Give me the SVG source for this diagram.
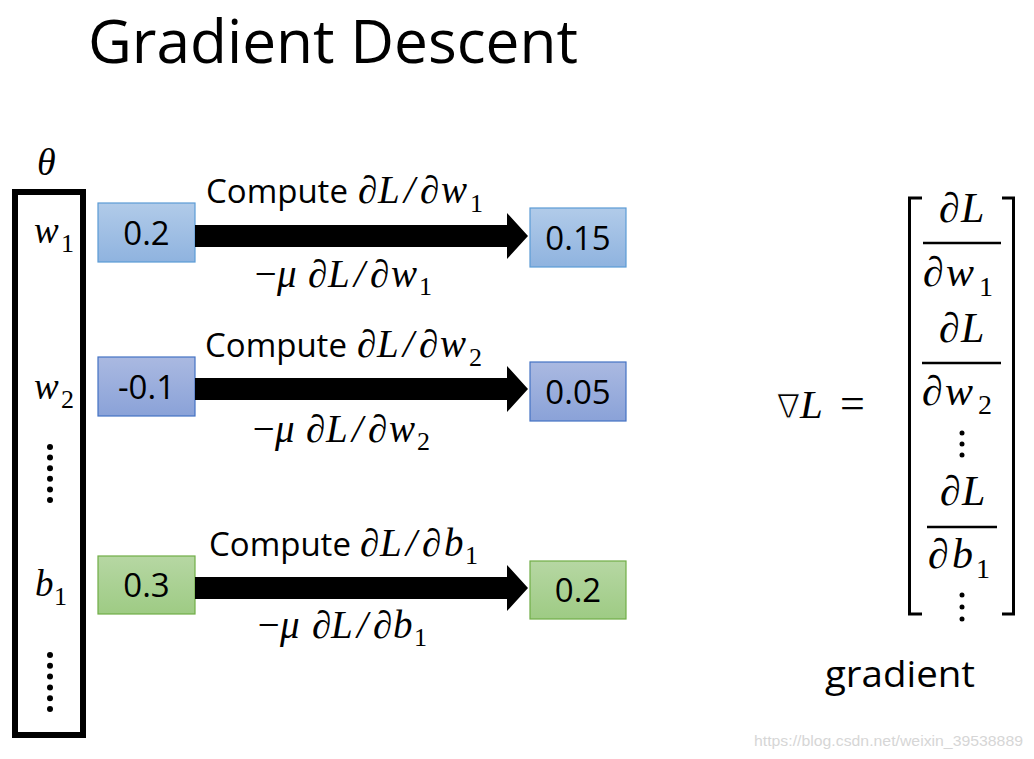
<svg xmlns="http://www.w3.org/2000/svg" width="1034" height="759" viewBox="0 0 1034 759">
<defs>
<linearGradient id="gBlue" x1="0" y1="0" x2="0" y2="1"><stop offset="0" stop-color="#b1cbe9"/><stop offset="1" stop-color="#8fb3df"/></linearGradient>
<linearGradient id="gPurple" x1="0" y1="0" x2="0" y2="1"><stop offset="0" stop-color="#aab9e1"/><stop offset="1" stop-color="#8aa2d8"/></linearGradient>
<linearGradient id="gGreen" x1="0" y1="0" x2="0" y2="1"><stop offset="0" stop-color="#b6d7a3"/><stop offset="1" stop-color="#9ecb84"/></linearGradient>
<style>
.sans{font-family:"Open Sans","Liberation Sans",sans-serif;fill:#000}
.math{font-family:"Liberation Serif","DejaVu Serif",serif;font-style:italic;fill:#000}
.sub{font-family:"Liberation Serif","DejaVu Serif",serif;font-style:normal;fill:#000}
.num{font-family:"Open Sans","Liberation Sans",sans-serif;font-size:33px;text-anchor:middle;fill:#000}
.blue{fill:url(#gBlue);stroke:#5b9bd5;stroke-width:1.2}
.purple{fill:url(#gPurple);stroke:#4472c4;stroke-width:1.2}
.green{fill:url(#gGreen);stroke:#70ad47;stroke-width:1.2}
.arrow{fill:#000}
.bar{stroke:#000;stroke-width:2.5}
.brk{fill:none;stroke:#000;stroke-width:3}
</style>
</defs>
<rect width="1034" height="759" fill="#fff"/>

<text id="title" class="sans" x="88" y="63" font-size="60" textLength="490" lengthAdjust="spacingAndGlyphs">Gradient Descent</text>

<g id="theta-vector">
<text class="math" x="37" y="175" font-size="38">θ</text>
<rect x="15" y="192" width="68" height="543" fill="none" stroke="#000" stroke-width="6"/>
<text class="math" x="34" y="243" font-size="37">w</text><text class="sub" x="61" y="252" font-size="26">1</text>
<text class="math" x="34" y="399" font-size="37">w</text><text class="sub" x="61" y="408" font-size="26">2</text>
<text class="math" x="35" y="596" font-size="37">b</text><text class="sub" x="54" y="605" font-size="26">1</text>
<g fill="#000">
<circle cx="50" cy="447" r="3"/><circle cx="50" cy="457.6" r="3"/><circle cx="50" cy="468.2" r="3"/><circle cx="50" cy="478.8" r="3"/><circle cx="50" cy="489.4" r="3"/><circle cx="50" cy="500" r="3"/>
<circle cx="50" cy="655" r="3"/><circle cx="50" cy="665.8" r="3"/><circle cx="50" cy="676.6" r="3"/><circle cx="50" cy="687.4" r="3"/><circle cx="50" cy="698.2" r="3"/><circle cx="50" cy="709" r="3"/>
</g>
</g>

<g id="w1-old"><rect class="blue" x="98" y="203" width="97" height="59"/><text class="num" x="146.5" y="245">0.2</text></g>
<g id="w1-new"><rect class="blue" x="530" y="208" width="96" height="59"/><text class="num" x="578" y="250">0.15</text></g>
<g id="w2-old"><rect class="purple" x="98" y="357" width="97" height="59"/><text class="num" x="146.5" y="399">-0.1</text></g>
<g id="w2-new"><rect class="purple" x="530" y="362" width="96" height="59"/><text class="num" x="578" y="404">0.05</text></g>
<g id="b1-old"><rect class="green" x="98" y="556" width="97" height="58"/><text class="num" x="146.5" y="597">0.3</text></g>
<g id="b1-new"><rect class="green" x="530" y="561" width="96" height="58"/><text class="num" x="578" y="602">0.2</text></g>

<g id="connectors">
<polygon class="arrow" points="195,225 507,225 507,213 528,236 507,259 507,247 195,247"/>
<polygon class="arrow" points="195,378 507,378 507,366 528,389 507,412 507,400 195,400"/>
<polygon class="arrow" points="195,577 507,577 507,565 528,588 507,611 507,599 195,599"/>
</g>

<g id="labels-w1">
<text class="sans" x="206" y="203" font-size="33">Compute</text>
<text class="math" x="358 378 404 420 441" y="203" font-size="39">∂L/∂w</text>
<text class="sub" x="470" y="212" font-size="26">1</text>
<text class="math" x="252 277" y="287" font-size="39">−μ</text>
<text class="math" x="308 328 354 370 391" y="287" font-size="39">∂L/∂w</text>
<text class="sub" x="419" y="295" font-size="26">1</text>
</g>
<g id="labels-w2">
<text class="sans" x="205" y="357" font-size="33">Compute</text>
<text class="math" x="357 377 403 419 440" y="357" font-size="39">∂L/∂w</text>
<text class="sub" x="469" y="366" font-size="26">2</text>
<text class="math" x="250 275" y="442" font-size="39">−μ</text>
<text class="math" x="306 326 352 368 389" y="442" font-size="39">∂L/∂w</text>
<text class="sub" x="417" y="450" font-size="26">2</text>
</g>
<g id="labels-b1">
<text class="sans" x="209" y="556" font-size="33">Compute</text>
<text class="math" x="360 380 406 422 444" y="556" font-size="39">∂L/∂b</text>
<text class="sub" x="465" y="564" font-size="26">1</text>
<text class="math" x="312 331 357 373 393" y="638" font-size="39">∂L/∂b</text>
<text class="math" x="255 280" y="638" font-size="39">−μ</text>
<text class="sub" x="414" y="646" font-size="26">1</text>
</g>

<g id="gradient-vector">
<text x="777" y="418" font-size="34" font-family="DejaVu Sans, sans-serif" font-weight="200" font-style="italic" fill="#000" stroke="#fff" stroke-width="1.2">∇</text>
<text class="math" x="800" y="418" font-size="41">L</text>
<text class="sub" x="840" y="418" font-size="44">=</text>
<path class="brk" d="M922,198 H909.5 V614 H922"/>
<path class="brk" d="M1002,198 H1013.5 V614 H1002"/>
<text class="math" x="939 961" y="222" font-size="42">∂L</text>
<line class="bar" x1="923" y1="243" x2="1001" y2="243"/>
<text class="math" x="923 946" y="286" font-size="42">∂w</text>
<text class="sub" x="979" y="296" font-size="28">1</text>
<text class="math" x="939 961" y="342" font-size="42">∂L</text>
<line class="bar" x1="922" y1="363" x2="1001" y2="363"/>
<text class="math" x="922 945" y="405" font-size="42">∂w</text>
<text class="sub" x="978" y="414" font-size="28">2</text>
<g fill="#000"><circle cx="962" cy="433" r="2.5"/><circle cx="962" cy="444" r="2.5"/><circle cx="962" cy="455" r="2.5"/></g>
<text class="math" x="940 962" y="505" font-size="42">∂L</text>
<line class="bar" x1="927" y1="527" x2="997" y2="527"/>
<text class="math" x="928 952" y="568" font-size="42">∂b</text>
<text class="sub" x="976" y="578" font-size="28">1</text>
<g fill="#000"><circle cx="962" cy="595" r="2.5"/><circle cx="962" cy="607" r="2.5"/><circle cx="962" cy="619" r="2.5"/></g>
<text class="sans" x="825" y="687" font-size="37" textLength="150" lengthAdjust="spacingAndGlyphs">gradient</text>
</g>

<text id="watermark" x="754" y="746" font-family="Liberation Sans, Arial, sans-serif" font-size="15" fill="#d6d6d6" textLength="269" lengthAdjust="spacingAndGlyphs">https://blog.csdn.net/weixin_39538889</text>
</svg>
